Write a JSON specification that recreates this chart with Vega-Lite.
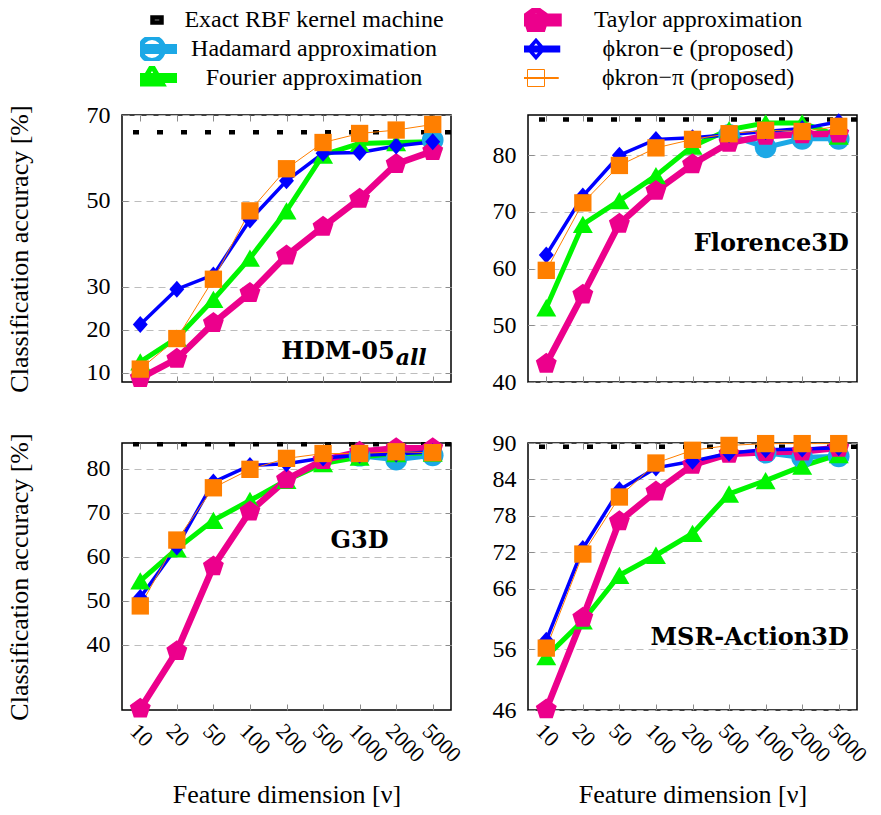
{
  "$schema": "https://vega.github.io/schema/vega-lite/v6.json",
  "padding": {"left": 5, "top": 8, "right": 5, "bottom": 5},
  "datasets": {
    "acc": [
      {"panel": "HDM", "method": "Exact RBF kernel machine", "dim": 10, "acc": 66.0},
      {"panel": "HDM", "method": "Hadamard approximation", "dim": 5000, "acc": 64.2},
      {"panel": "HDM", "method": "Fourier approximation", "dim": 10, "acc": 12.6},
      {"panel": "HDM", "method": "Fourier approximation", "dim": 20, "acc": 18.1},
      {"panel": "HDM", "method": "Fourier approximation", "dim": 50, "acc": 27.1},
      {"panel": "HDM", "method": "Fourier approximation", "dim": 100, "acc": 36.7},
      {"panel": "HDM", "method": "Fourier approximation", "dim": 200, "acc": 47.7},
      {"panel": "HDM", "method": "Fourier approximation", "dim": 500, "acc": 60.7},
      {"panel": "HDM", "method": "Fourier approximation", "dim": 1000, "acc": 63.4},
      {"panel": "HDM", "method": "Fourier approximation", "dim": 2000, "acc": 63.6},
      {"panel": "HDM", "method": "Fourier approximation", "dim": 5000, "acc": 63.8},
      {"panel": "HDM", "method": "Taylor approximation", "dim": 10, "acc": 8.8},
      {"panel": "HDM", "method": "Taylor approximation", "dim": 20, "acc": 13.3},
      {"panel": "HDM", "method": "Taylor approximation", "dim": 50, "acc": 21.6},
      {"panel": "HDM", "method": "Taylor approximation", "dim": 100, "acc": 28.6},
      {"panel": "HDM", "method": "Taylor approximation", "dim": 200, "acc": 37.3},
      {"panel": "HDM", "method": "Taylor approximation", "dim": 500, "acc": 44.0},
      {"panel": "HDM", "method": "Taylor approximation", "dim": 1000, "acc": 50.5},
      {"panel": "HDM", "method": "Taylor approximation", "dim": 2000, "acc": 58.6},
      {"panel": "HDM", "method": "Taylor approximation", "dim": 5000, "acc": 61.6},
      {"panel": "HDM", "method": "ϕkron−e (proposed)", "dim": 10, "acc": 21.3},
      {"panel": "HDM", "method": "ϕkron−e (proposed)", "dim": 20, "acc": 29.5},
      {"panel": "HDM", "method": "ϕkron−e (proposed)", "dim": 50, "acc": 32.8},
      {"panel": "HDM", "method": "ϕkron−e (proposed)", "dim": 100, "acc": 45.6},
      {"panel": "HDM", "method": "ϕkron−e (proposed)", "dim": 200, "acc": 54.7},
      {"panel": "HDM", "method": "ϕkron−e (proposed)", "dim": 500, "acc": 61.1},
      {"panel": "HDM", "method": "ϕkron−e (proposed)", "dim": 1000, "acc": 61.3},
      {"panel": "HDM", "method": "ϕkron−e (proposed)", "dim": 2000, "acc": 62.8},
      {"panel": "HDM", "method": "ϕkron−e (proposed)", "dim": 5000, "acc": 63.8},
      {"panel": "HDM", "method": "ϕkron−π (proposed)", "dim": 10, "acc": 10.9},
      {"panel": "HDM", "method": "ϕkron−π (proposed)", "dim": 20, "acc": 18.0},
      {"panel": "HDM", "method": "ϕkron−π (proposed)", "dim": 50, "acc": 31.8},
      {"panel": "HDM", "method": "ϕkron−π (proposed)", "dim": 100, "acc": 47.7},
      {"panel": "HDM", "method": "ϕkron−π (proposed)", "dim": 200, "acc": 57.5},
      {"panel": "HDM", "method": "ϕkron−π (proposed)", "dim": 500, "acc": 63.6},
      {"panel": "HDM", "method": "ϕkron−π (proposed)", "dim": 1000, "acc": 65.7},
      {"panel": "HDM", "method": "ϕkron−π (proposed)", "dim": 2000, "acc": 66.5},
      {"panel": "HDM", "method": "ϕkron−π (proposed)", "dim": 5000, "acc": 67.8},

      {"panel": "FLO", "method": "Exact RBF kernel machine", "dim": 10, "acc": 86.3},
      {"panel": "FLO", "method": "Hadamard approximation", "dim": 500, "acc": 83.6},
      {"panel": "FLO", "method": "Hadamard approximation", "dim": 1000, "acc": 81.4},
      {"panel": "FLO", "method": "Hadamard approximation", "dim": 2000, "acc": 82.9},
      {"panel": "FLO", "method": "Hadamard approximation", "dim": 5000, "acc": 82.9},
      {"panel": "FLO", "method": "Fourier approximation", "dim": 10, "acc": 53.1},
      {"panel": "FLO", "method": "Fourier approximation", "dim": 20, "acc": 67.8},
      {"panel": "FLO", "method": "Fourier approximation", "dim": 50, "acc": 72.0},
      {"panel": "FLO", "method": "Fourier approximation", "dim": 100, "acc": 76.4},
      {"panel": "FLO", "method": "Fourier approximation", "dim": 200, "acc": 81.6},
      {"panel": "FLO", "method": "Fourier approximation", "dim": 500, "acc": 84.5},
      {"panel": "FLO", "method": "Fourier approximation", "dim": 1000, "acc": 85.7},
      {"panel": "FLO", "method": "Fourier approximation", "dim": 2000, "acc": 85.7},
      {"panel": "FLO", "method": "Fourier approximation", "dim": 5000, "acc": 83.4},
      {"panel": "FLO", "method": "Taylor approximation", "dim": 10, "acc": 43.2},
      {"panel": "FLO", "method": "Taylor approximation", "dim": 20, "acc": 55.4},
      {"panel": "FLO", "method": "Taylor approximation", "dim": 50, "acc": 67.9},
      {"panel": "FLO", "method": "Taylor approximation", "dim": 100, "acc": 73.7},
      {"panel": "FLO", "method": "Taylor approximation", "dim": 200, "acc": 78.4},
      {"panel": "FLO", "method": "Taylor approximation", "dim": 500, "acc": 82.2},
      {"panel": "FLO", "method": "Taylor approximation", "dim": 1000, "acc": 83.4},
      {"panel": "FLO", "method": "Taylor approximation", "dim": 2000, "acc": 83.7},
      {"panel": "FLO", "method": "Taylor approximation", "dim": 5000, "acc": 83.8},
      {"panel": "FLO", "method": "ϕkron−e (proposed)", "dim": 10, "acc": 62.4},
      {"panel": "FLO", "method": "ϕkron−e (proposed)", "dim": 20, "acc": 72.8},
      {"panel": "FLO", "method": "ϕkron−e (proposed)", "dim": 50, "acc": 80.0},
      {"panel": "FLO", "method": "ϕkron−e (proposed)", "dim": 100, "acc": 82.8},
      {"panel": "FLO", "method": "ϕkron−e (proposed)", "dim": 200, "acc": 83.1},
      {"panel": "FLO", "method": "ϕkron−e (proposed)", "dim": 500, "acc": 83.6},
      {"panel": "FLO", "method": "ϕkron−e (proposed)", "dim": 1000, "acc": 84.2},
      {"panel": "FLO", "method": "ϕkron−e (proposed)", "dim": 2000, "acc": 84.7},
      {"panel": "FLO", "method": "ϕkron−e (proposed)", "dim": 5000, "acc": 85.9},
      {"panel": "FLO", "method": "ϕkron−π (proposed)", "dim": 10, "acc": 59.7},
      {"panel": "FLO", "method": "ϕkron−π (proposed)", "dim": 20, "acc": 71.6},
      {"panel": "FLO", "method": "ϕkron−π (proposed)", "dim": 50, "acc": 78.2},
      {"panel": "FLO", "method": "ϕkron−π (proposed)", "dim": 100, "acc": 81.3},
      {"panel": "FLO", "method": "ϕkron−π (proposed)", "dim": 200, "acc": 82.8},
      {"panel": "FLO", "method": "ϕkron−π (proposed)", "dim": 500, "acc": 83.8},
      {"panel": "FLO", "method": "ϕkron−π (proposed)", "dim": 1000, "acc": 84.4},
      {"panel": "FLO", "method": "ϕkron−π (proposed)", "dim": 2000, "acc": 84.2},
      {"panel": "FLO", "method": "ϕkron−π (proposed)", "dim": 5000, "acc": 85.1},

      {"panel": "G3D", "method": "Exact RBF kernel machine", "dim": 10, "acc": 85.6},
      {"panel": "G3D", "method": "Hadamard approximation", "dim": 1000, "acc": 83.0},
      {"panel": "G3D", "method": "Hadamard approximation", "dim": 2000, "acc": 82.1},
      {"panel": "G3D", "method": "Hadamard approximation", "dim": 5000, "acc": 83.1},
      {"panel": "G3D", "method": "Fourier approximation", "dim": 10, "acc": 54.5},
      {"panel": "G3D", "method": "Fourier approximation", "dim": 20, "acc": 61.8},
      {"panel": "G3D", "method": "Fourier approximation", "dim": 50, "acc": 68.3},
      {"panel": "G3D", "method": "Fourier approximation", "dim": 100, "acc": 72.8},
      {"panel": "G3D", "method": "Fourier approximation", "dim": 200, "acc": 77.4},
      {"panel": "G3D", "method": "Fourier approximation", "dim": 500, "acc": 81.2},
      {"panel": "G3D", "method": "Fourier approximation", "dim": 1000, "acc": 82.7},
      {"panel": "G3D", "method": "Fourier approximation", "dim": 2000, "acc": 83.5},
      {"panel": "G3D", "method": "Fourier approximation", "dim": 5000, "acc": 83.6},
      {"panel": "G3D", "method": "Taylor approximation", "dim": 10, "acc": 25.4},
      {"panel": "G3D", "method": "Taylor approximation", "dim": 20, "acc": 38.5},
      {"panel": "G3D", "method": "Taylor approximation", "dim": 50, "acc": 57.8},
      {"panel": "G3D", "method": "Taylor approximation", "dim": 100, "acc": 70.3},
      {"panel": "G3D", "method": "Taylor approximation", "dim": 200, "acc": 77.6},
      {"panel": "G3D", "method": "Taylor approximation", "dim": 500, "acc": 82.0},
      {"panel": "G3D", "method": "Taylor approximation", "dim": 1000, "acc": 83.9},
      {"panel": "G3D", "method": "Taylor approximation", "dim": 2000, "acc": 84.7},
      {"panel": "G3D", "method": "Taylor approximation", "dim": 5000, "acc": 84.7},
      {"panel": "G3D", "method": "ϕkron−e (proposed)", "dim": 10, "acc": 50.7},
      {"panel": "G3D", "method": "ϕkron−e (proposed)", "dim": 20, "acc": 62.2},
      {"panel": "G3D", "method": "ϕkron−e (proposed)", "dim": 50, "acc": 77.0},
      {"panel": "G3D", "method": "ϕkron−e (proposed)", "dim": 100, "acc": 80.8},
      {"panel": "G3D", "method": "ϕkron−e (proposed)", "dim": 200, "acc": 81.2},
      {"panel": "G3D", "method": "ϕkron−e (proposed)", "dim": 500, "acc": 82.5},
      {"panel": "G3D", "method": "ϕkron−e (proposed)", "dim": 1000, "acc": 83.1},
      {"panel": "G3D", "method": "ϕkron−e (proposed)", "dim": 2000, "acc": 83.4},
      {"panel": "G3D", "method": "ϕkron−e (proposed)", "dim": 5000, "acc": 83.9},
      {"panel": "G3D", "method": "ϕkron−π (proposed)", "dim": 10, "acc": 48.8},
      {"panel": "G3D", "method": "ϕkron−π (proposed)", "dim": 20, "acc": 63.8},
      {"panel": "G3D", "method": "ϕkron−π (proposed)", "dim": 50, "acc": 75.7},
      {"panel": "G3D", "method": "ϕkron−π (proposed)", "dim": 100, "acc": 79.9},
      {"panel": "G3D", "method": "ϕkron−π (proposed)", "dim": 200, "acc": 82.4},
      {"panel": "G3D", "method": "ϕkron−π (proposed)", "dim": 500, "acc": 83.5},
      {"panel": "G3D", "method": "ϕkron−π (proposed)", "dim": 1000, "acc": 83.5},
      {"panel": "G3D", "method": "ϕkron−π (proposed)", "dim": 2000, "acc": 83.9},
      {"panel": "G3D", "method": "ϕkron−π (proposed)", "dim": 5000, "acc": 83.7},

      {"panel": "MSR", "method": "Exact RBF kernel machine", "dim": 10, "acc": 89.4},
      {"panel": "MSR", "method": "Hadamard approximation", "dim": 1000, "acc": 88.4},
      {"panel": "MSR", "method": "Hadamard approximation", "dim": 2000, "acc": 87.6},
      {"panel": "MSR", "method": "Hadamard approximation", "dim": 5000, "acc": 87.8},
      {"panel": "MSR", "method": "Fourier approximation", "dim": 10, "acc": 54.8},
      {"panel": "MSR", "method": "Fourier approximation", "dim": 20, "acc": 60.7},
      {"panel": "MSR", "method": "Fourier approximation", "dim": 50, "acc": 68.2},
      {"panel": "MSR", "method": "Fourier approximation", "dim": 100, "acc": 71.5},
      {"panel": "MSR", "method": "Fourier approximation", "dim": 200, "acc": 75.1},
      {"panel": "MSR", "method": "Fourier approximation", "dim": 500, "acc": 81.6},
      {"panel": "MSR", "method": "Fourier approximation", "dim": 1000, "acc": 83.8},
      {"panel": "MSR", "method": "Fourier approximation", "dim": 2000, "acc": 86.2},
      {"panel": "MSR", "method": "Fourier approximation", "dim": 5000, "acc": 88.1},
      {"panel": "MSR", "method": "Taylor approximation", "dim": 10, "acc": 46.1},
      {"panel": "MSR", "method": "Taylor approximation", "dim": 20, "acc": 61.2},
      {"panel": "MSR", "method": "Taylor approximation", "dim": 50, "acc": 77.1},
      {"panel": "MSR", "method": "Taylor approximation", "dim": 100, "acc": 82.0},
      {"panel": "MSR", "method": "Taylor approximation", "dim": 200, "acc": 86.4},
      {"panel": "MSR", "method": "Taylor approximation", "dim": 500, "acc": 88.2},
      {"panel": "MSR", "method": "Taylor approximation", "dim": 1000, "acc": 88.5},
      {"panel": "MSR", "method": "Taylor approximation", "dim": 2000, "acc": 88.6},
      {"panel": "MSR", "method": "Taylor approximation", "dim": 5000, "acc": 89.2},
      {"panel": "MSR", "method": "ϕkron−e (proposed)", "dim": 10, "acc": 57.5},
      {"panel": "MSR", "method": "ϕkron−e (proposed)", "dim": 20, "acc": 72.6},
      {"panel": "MSR", "method": "ϕkron−e (proposed)", "dim": 50, "acc": 82.3},
      {"panel": "MSR", "method": "ϕkron−e (proposed)", "dim": 100, "acc": 85.9},
      {"panel": "MSR", "method": "ϕkron−e (proposed)", "dim": 200, "acc": 87.0},
      {"panel": "MSR", "method": "ϕkron−e (proposed)", "dim": 500, "acc": 88.3},
      {"panel": "MSR", "method": "ϕkron−e (proposed)", "dim": 1000, "acc": 88.9},
      {"panel": "MSR", "method": "ϕkron−e (proposed)", "dim": 2000, "acc": 89.0},
      {"panel": "MSR", "method": "ϕkron−e (proposed)", "dim": 5000, "acc": 89.2},
      {"panel": "MSR", "method": "ϕkron−π (proposed)", "dim": 10, "acc": 56.2},
      {"panel": "MSR", "method": "ϕkron−π (proposed)", "dim": 20, "acc": 71.7},
      {"panel": "MSR", "method": "ϕkron−π (proposed)", "dim": 50, "acc": 81.1},
      {"panel": "MSR", "method": "ϕkron−π (proposed)", "dim": 100, "acc": 86.7},
      {"panel": "MSR", "method": "ϕkron−π (proposed)", "dim": 200, "acc": 88.8},
      {"panel": "MSR", "method": "ϕkron−π (proposed)", "dim": 500, "acc": 89.6},
      {"panel": "MSR", "method": "ϕkron−π (proposed)", "dim": 1000, "acc": 89.9},
      {"panel": "MSR", "method": "ϕkron−π (proposed)", "dim": 2000, "acc": 89.9},
      {"panel": "MSR", "method": "ϕkron−π (proposed)", "dim": 5000, "acc": 89.9}
    ],
    "labels": [
      {"panel": "HDM", "label": "HDM-05", "sub": "all"},
      {"panel": "FLO", "label": "Florence3D", "sub": ""},
      {"panel": "G3D", "label": "G3D", "sub": ""},
      {"panel": "MSR", "label": "MSR-Action3D", "sub": ""}
    ]
  },
  "columns": 2,
  "spacing": {"row": 61, "column": 77},
  "bounds": "flush",
  "concat": [
    {
      "width": 329, "height": 267,
      "data": {"name": "acc"},
      "layer": [
        {
          "transform": [{"filter": "datum.panel === 'HDM'"}],
          "mark": {"type": "point", "filled": true, "opacity": 0},
          "encoding": {
            "x": {"field": "dim", "type": "ordinal", "scale": {"type": "point", "domain": [10, 20, 50, 100, 200, 500, 1000, 2000, 5000], "padding": 0.5}, "axis": null},
            "y": {"field": "acc", "type": "quantitative", "scale": {"domain": [7.9, 70], "nice": false, "zero": false}, "axis": null},
            "color": {"field": "method", "type": "nominal",
              "scale": {"domain": ["Exact RBF kernel machine", "Hadamard approximation", "Fourier approximation", "Taylor approximation", "ϕkron−e (proposed)", "ϕkron−π (proposed)"],
                        "range": ["#000000", "#1CA8E6", "#00F500", "#EC008C", "#0000FF", "#FF7F00"]},
              "legend": {
                "orient": "none", "legendX": 18, "legendY": -107, "columns": 2, "title": null, "padding": 0,
                "labelFont": "Liberation Serif", "labelFontSize": 24, "labelColor": "black",
                "labelAlign": "center", "labelOffset": 150, "labelLimit": 500,
                "symbolSize": 100, "symbolStrokeWidth": 0.5, "symbolOpacity": 1, "clipHeight": 24,
                "columnPadding": 80, "rowPadding": 5
              }},
            "shape": {"field": "method", "type": "nominal",
              "scale": {"domain": ["Exact RBF kernel machine", "Hadamard approximation", "Fourier approximation", "Taylor approximation", "ϕkron−e (proposed)", "ϕkron−π (proposed)"],
                        "range": [
                          "M-4.5,-0.5H-3.1V0.5H-4.5Z M0.1,-0.5H1.9V0.5H0.1Z",
                          "M-4.5,-0.5H4.5V0.5H-4.5Z M2.3,0A2.3,2.3,0,1,1,-2.3,0A2.3,2.3,0,1,1,2.3,0Z",
                          "M-4.5,-0.5H4.5V0.5H-4.5Z M0,-2.4L2.1,1.2L-2.1,1.2Z",
                          "M-4.5,-0.65H4.5V0.65H-4.5Z M0,-2.2L2.09,-0.68L1.29,1.78L-1.29,1.78L-2.09,-0.68Z",
                          "M-4.5,-0.35H4.5V0.35H-4.5Z M0,-1.7L1.5,0L0,1.7L-1.5,0Z",
                          "M-4.5,-0.1H4.5V0.1H-4.5Z M-1.7,-1.7H1.7V1.7H-1.7Z"
                        ]}}
          }
        },
        {
          "transform": [{"filter": "datum.panel === 'HDM' && datum.method === 'Exact RBF kernel machine'"}],
          "mark": {"type": "rule", "strokeDash": [6, 18], "strokeWidth": 4.5, "strokeCap": "butt"},
          "encoding": {
            "y": {"field": "acc", "type": "quantitative", "scale": {"domain": [7.9, 70], "nice": false, "zero": false}, "axis": null},
            "color": {"field": "method", "type": "nominal",
              "scale": {"domain": ["Exact RBF kernel machine", "Hadamard approximation", "Fourier approximation", "Taylor approximation", "ϕkron−e (proposed)", "ϕkron−π (proposed)"],
                        "range": ["#000000", "#1CA8E6", "#00F500", "#EC008C", "#0000FF", "#FF7F00"]}}
          }
        },
        {
          "transform": [{"filter": "datum.panel === 'HDM' && datum.method !== 'Exact RBF kernel machine'"}],
          "mark": {"type": "line"},
          "encoding": {
            "x": {"field": "dim", "type": "ordinal", "scale": {"type": "point", "domain": [10, 20, 50, 100, 200, 500, 1000, 2000, 5000], "padding": 0.5},
                  "axis": {"orient": "bottom", "labels": false, "title": null, "grid": false, "domain": false, "tickSize": -6}},
            "y": {"field": "acc", "type": "quantitative", "scale": {"domain": [7.9, 70], "nice": false, "zero": false},
                  "axis": {"orient": "left", "values": [10, 20, 30, 50, 70], "grid": true, "domain": false, "tickSize": -6, "labelPadding": 18, "title": "Classification accuracy [%]", "titlePadding": 54}},
            "stroke": {"field": "method", "type": "nominal", "legend": null,
              "scale": {"domain": ["Exact RBF kernel machine", "Hadamard approximation", "Fourier approximation", "Taylor approximation", "ϕkron−e (proposed)", "ϕkron−π (proposed)"],
                        "range": ["#000000", "#1CA8E6", "#00F500", "#EC008C", "#0000FF", "#FF7F00"]}},
            "strokeWidth": {"field": "method", "type": "nominal", "legend": null,
              "scale": {"type": "ordinal", "domain": ["Exact RBF kernel machine", "Hadamard approximation", "Fourier approximation", "Taylor approximation", "ϕkron−e (proposed)", "ϕkron−π (proposed)"], "range": [4.5, 5, 5, 6.5, 3.5, 1]}}
          }
        },
        {
          "transform": [{"filter": "datum.panel === 'HDM' && datum.method === 'Hadamard approximation'"}],
          "mark": {"type": "point", "filled": true, "opacity": 1, "shape": "circle", "size": 470, "color": "#1CA8E6"},
          "encoding": {
            "x": {"field": "dim", "type": "ordinal", "axis": {"orient": "top", "labels": false, "title": null, "grid": false, "domain": false, "tickSize": -6}},
            "y": {"field": "acc", "type": "quantitative", "axis": {"orient": "right", "values": [10, 20, 30, 50, 70], "labels": false, "title": null, "grid": false, "domain": false, "tickSize": -6}}
          }
        },
        {
          "transform": [{"filter": "datum.panel === 'HDM' && datum.method === 'Fourier approximation'"}],
          "mark": {"type": "point", "filled": true, "opacity": 1, "shape": "triangle-up", "size": 400, "color": "#00F500"},
          "encoding": {"x": {"field": "dim", "type": "ordinal", "axis": null}, "y": {"field": "acc", "type": "quantitative", "axis": null}}
        },
        {
          "transform": [{"filter": "datum.panel === 'HDM' && datum.method === 'Taylor approximation'"}],
          "mark": {"type": "point", "filled": true, "opacity": 1, "shape": "M0,-1L0.951,-0.309L0.588,0.809L-0.588,0.809L-0.951,-0.309Z", "size": 484, "color": "#EC008C"},
          "encoding": {"x": {"field": "dim", "type": "ordinal", "axis": null}, "y": {"field": "acc", "type": "quantitative", "axis": null}}
        },
        {
          "transform": [{"filter": "datum.panel === 'HDM' && datum.method === 'ϕkron−e (proposed)'"}],
          "mark": {"type": "point", "filled": true, "opacity": 1, "shape": "M0,-1L0.88,0L0,1L-0.88,0Z", "size": 289, "color": "#0000FF"},
          "encoding": {"x": {"field": "dim", "type": "ordinal", "axis": null}, "y": {"field": "acc", "type": "quantitative", "axis": null}}
        },
        {
          "transform": [{"filter": "datum.panel === 'HDM' && datum.method === 'ϕkron−π (proposed)'"}],
          "mark": {"type": "point", "filled": true, "opacity": 1, "shape": "square", "size": 300, "color": "#FF7F00"},
          "encoding": {"x": {"field": "dim", "type": "ordinal", "axis": null}, "y": {"field": "acc", "type": "quantitative", "axis": null}}
        },
        {
          "data": {"name": "labels"},
          "transform": [{"filter": "datum.panel === 'HDM'"}],
          "mark": {"type": "text", "font": "DejaVu Serif", "fontWeight": "bold", "fontSize": 24, "align": "right", "baseline": "middle", "dx": -38},
          "encoding": {"x": {"datum": 5000, "type": "ordinal", "axis": null}, "y": {"datum": 14.9, "type": "quantitative", "axis": null}, "text": {"field": "label"}}
        },
        {
          "data": {"name": "labels"},
          "transform": [{"filter": "datum.panel === 'HDM'"}],
          "mark": {"type": "text", "font": "DejaVu Serif", "fontWeight": "bold", "fontStyle": "italic", "fontSize": 22, "align": "left", "baseline": "middle", "dx": -37, "dy": 6},
          "encoding": {"x": {"datum": 5000, "type": "ordinal", "axis": null}, "y": {"datum": 14.9, "type": "quantitative", "axis": null}, "text": {"field": "sub"}}
        }
      ],
      "resolve": {"axis": {"x": "independent", "y": "independent"}}
    },
    {
      "width": 329, "height": 267,
      "data": {"name": "acc"},
      "layer": [
        {
          "transform": [{"filter": "datum.panel === 'FLO' && datum.method === 'Exact RBF kernel machine'"}],
          "mark": {"type": "rule", "strokeDash": [6, 18], "strokeWidth": 4.5, "strokeCap": "butt"},
          "encoding": {
            "y": {"field": "acc", "type": "quantitative", "scale": {"domain": [40, 87.1], "nice": false, "zero": false}, "axis": null},
            "color": {"field": "method", "type": "nominal",
              "scale": {"domain": ["Exact RBF kernel machine", "Hadamard approximation", "Fourier approximation", "Taylor approximation", "ϕkron−e (proposed)", "ϕkron−π (proposed)"],
                        "range": ["#000000", "#1CA8E6", "#00F500", "#EC008C", "#0000FF", "#FF7F00"]}}
          }
        },
        {
          "transform": [{"filter": "datum.panel === 'FLO' && datum.method !== 'Exact RBF kernel machine'"}],
          "mark": {"type": "line"},
          "encoding": {
            "x": {"field": "dim", "type": "ordinal", "scale": {"type": "point", "domain": [10, 20, 50, 100, 200, 500, 1000, 2000, 5000], "padding": 0.5},
                  "axis": {"orient": "bottom", "labels": false, "title": null, "grid": false, "domain": false, "tickSize": -6}},
            "y": {"field": "acc", "type": "quantitative", "scale": {"domain": [40, 87.1], "nice": false, "zero": false},
                  "axis": {"orient": "left", "values": [40, 50, 60, 70, 80], "grid": true, "domain": false, "tickSize": -6, "labelPadding": 18, "title": null}},
            "stroke": {"field": "method", "type": "nominal", "legend": null,
              "scale": {"domain": ["Exact RBF kernel machine", "Hadamard approximation", "Fourier approximation", "Taylor approximation", "ϕkron−e (proposed)", "ϕkron−π (proposed)"],
                        "range": ["#000000", "#1CA8E6", "#00F500", "#EC008C", "#0000FF", "#FF7F00"]}},
            "strokeWidth": {"field": "method", "type": "nominal", "legend": null,
              "scale": {"type": "ordinal", "domain": ["Exact RBF kernel machine", "Hadamard approximation", "Fourier approximation", "Taylor approximation", "ϕkron−e (proposed)", "ϕkron−π (proposed)"], "range": [4.5, 5, 5, 6.5, 3.5, 1]}}
          }
        },
        {
          "transform": [{"filter": "datum.panel === 'FLO' && datum.method === 'Hadamard approximation'"}],
          "mark": {"type": "point", "filled": true, "opacity": 1, "shape": "circle", "size": 470, "color": "#1CA8E6"},
          "encoding": {
            "x": {"field": "dim", "type": "ordinal", "axis": {"orient": "top", "labels": false, "title": null, "grid": false, "domain": false, "tickSize": -6}},
            "y": {"field": "acc", "type": "quantitative", "axis": {"orient": "right", "values": [40, 50, 60, 70, 80], "labels": false, "title": null, "grid": false, "domain": false, "tickSize": -6}}
          }
        },
        {
          "transform": [{"filter": "datum.panel === 'FLO' && datum.method === 'Fourier approximation'"}],
          "mark": {"type": "point", "filled": true, "opacity": 1, "shape": "triangle-up", "size": 400, "color": "#00F500"},
          "encoding": {"x": {"field": "dim", "type": "ordinal", "axis": null}, "y": {"field": "acc", "type": "quantitative", "axis": null}}
        },
        {
          "transform": [{"filter": "datum.panel === 'FLO' && datum.method === 'Taylor approximation'"}],
          "mark": {"type": "point", "filled": true, "opacity": 1, "shape": "M0,-1L0.951,-0.309L0.588,0.809L-0.588,0.809L-0.951,-0.309Z", "size": 484, "color": "#EC008C"},
          "encoding": {"x": {"field": "dim", "type": "ordinal", "axis": null}, "y": {"field": "acc", "type": "quantitative", "axis": null}}
        },
        {
          "transform": [{"filter": "datum.panel === 'FLO' && datum.method === 'ϕkron−e (proposed)'"}],
          "mark": {"type": "point", "filled": true, "opacity": 1, "shape": "M0,-1L0.88,0L0,1L-0.88,0Z", "size": 289, "color": "#0000FF"},
          "encoding": {"x": {"field": "dim", "type": "ordinal", "axis": null}, "y": {"field": "acc", "type": "quantitative", "axis": null}}
        },
        {
          "transform": [{"filter": "datum.panel === 'FLO' && datum.method === 'ϕkron−π (proposed)'"}],
          "mark": {"type": "point", "filled": true, "opacity": 1, "shape": "square", "size": 300, "color": "#FF7F00"},
          "encoding": {"x": {"field": "dim", "type": "ordinal", "axis": null}, "y": {"field": "acc", "type": "quantitative", "axis": null}}
        },
        {
          "data": {"name": "labels"},
          "transform": [{"filter": "datum.panel === 'FLO'"}],
          "mark": {"type": "text", "font": "DejaVu Serif", "fontWeight": "bold", "fontSize": 24, "align": "right", "baseline": "middle", "dx": 10},
          "encoding": {"x": {"datum": 5000, "type": "ordinal", "axis": null}, "y": {"datum": 64.4, "type": "quantitative", "axis": null}, "text": {"field": "label"}}
        }
      ],
      "resolve": {"axis": {"x": "independent", "y": "independent"}}
    },
    {
      "width": 329, "height": 267,
      "data": {"name": "acc"},
      "layer": [
        {
          "transform": [{"filter": "datum.panel === 'G3D' && datum.method === 'Exact RBF kernel machine'"}],
          "mark": {"type": "rule", "strokeDash": [6, 18], "strokeWidth": 4.5, "strokeCap": "butt"},
          "encoding": {
            "y": {"field": "acc", "type": "quantitative", "scale": {"domain": [25.1, 85.9], "nice": false, "zero": false}, "axis": null},
            "color": {"field": "method", "type": "nominal",
              "scale": {"domain": ["Exact RBF kernel machine", "Hadamard approximation", "Fourier approximation", "Taylor approximation", "ϕkron−e (proposed)", "ϕkron−π (proposed)"],
                        "range": ["#000000", "#1CA8E6", "#00F500", "#EC008C", "#0000FF", "#FF7F00"]}}
          }
        },
        {
          "transform": [{"filter": "datum.panel === 'G3D' && datum.method !== 'Exact RBF kernel machine'"}],
          "mark": {"type": "line"},
          "encoding": {
            "x": {"field": "dim", "type": "ordinal", "scale": {"type": "point", "domain": [10, 20, 50, 100, 200, 500, 1000, 2000, 5000], "padding": 0.5},
                  "axis": {"orient": "bottom", "labels": true, "labelAngle": 45, "labelFontSize": 22, "labelPadding": 16, "title": "Feature dimension [ν]", "titlePadding": 16, "grid": false, "domain": false, "tickSize": -6}},
            "y": {"field": "acc", "type": "quantitative", "scale": {"domain": [25.1, 85.9], "nice": false, "zero": false},
                  "axis": {"orient": "left", "values": [40, 50, 60, 70, 80], "grid": true, "domain": false, "tickSize": -6, "labelPadding": 18, "title": "Classification accuracy [%]", "titlePadding": 54}},
            "stroke": {"field": "method", "type": "nominal", "legend": null,
              "scale": {"domain": ["Exact RBF kernel machine", "Hadamard approximation", "Fourier approximation", "Taylor approximation", "ϕkron−e (proposed)", "ϕkron−π (proposed)"],
                        "range": ["#000000", "#1CA8E6", "#00F500", "#EC008C", "#0000FF", "#FF7F00"]}},
            "strokeWidth": {"field": "method", "type": "nominal", "legend": null,
              "scale": {"type": "ordinal", "domain": ["Exact RBF kernel machine", "Hadamard approximation", "Fourier approximation", "Taylor approximation", "ϕkron−e (proposed)", "ϕkron−π (proposed)"], "range": [4.5, 5, 5, 6.5, 3.5, 1]}}
          }
        },
        {
          "transform": [{"filter": "datum.panel === 'G3D' && datum.method === 'Hadamard approximation'"}],
          "mark": {"type": "point", "filled": true, "opacity": 1, "shape": "circle", "size": 470, "color": "#1CA8E6"},
          "encoding": {
            "x": {"field": "dim", "type": "ordinal", "axis": {"orient": "top", "labels": false, "title": null, "grid": false, "domain": false, "tickSize": -6}},
            "y": {"field": "acc", "type": "quantitative", "axis": {"orient": "right", "values": [40, 50, 60, 70, 80], "labels": false, "title": null, "grid": false, "domain": false, "tickSize": -6}}
          }
        },
        {
          "transform": [{"filter": "datum.panel === 'G3D' && datum.method === 'Fourier approximation'"}],
          "mark": {"type": "point", "filled": true, "opacity": 1, "shape": "triangle-up", "size": 400, "color": "#00F500"},
          "encoding": {"x": {"field": "dim", "type": "ordinal", "axis": null}, "y": {"field": "acc", "type": "quantitative", "axis": null}}
        },
        {
          "transform": [{"filter": "datum.panel === 'G3D' && datum.method === 'Taylor approximation'"}],
          "mark": {"type": "point", "filled": true, "opacity": 1, "shape": "M0,-1L0.951,-0.309L0.588,0.809L-0.588,0.809L-0.951,-0.309Z", "size": 484, "color": "#EC008C"},
          "encoding": {"x": {"field": "dim", "type": "ordinal", "axis": null}, "y": {"field": "acc", "type": "quantitative", "axis": null}}
        },
        {
          "transform": [{"filter": "datum.panel === 'G3D' && datum.method === 'ϕkron−e (proposed)'"}],
          "mark": {"type": "point", "filled": true, "opacity": 1, "shape": "M0,-1L0.88,0L0,1L-0.88,0Z", "size": 289, "color": "#0000FF"},
          "encoding": {"x": {"field": "dim", "type": "ordinal", "axis": null}, "y": {"field": "acc", "type": "quantitative", "axis": null}}
        },
        {
          "transform": [{"filter": "datum.panel === 'G3D' && datum.method === 'ϕkron−π (proposed)'"}],
          "mark": {"type": "point", "filled": true, "opacity": 1, "shape": "square", "size": 300, "color": "#FF7F00"},
          "encoding": {"x": {"field": "dim", "type": "ordinal", "axis": null}, "y": {"field": "acc", "type": "quantitative", "axis": null}}
        },
        {
          "data": {"name": "labels"},
          "transform": [{"filter": "datum.panel === 'G3D'"}],
          "mark": {"type": "text", "font": "DejaVu Serif", "fontWeight": "bold", "fontSize": 24, "align": "center", "baseline": "middle"},
          "encoding": {"x": {"datum": 1000, "type": "ordinal", "axis": null}, "y": {"datum": 63.5, "type": "quantitative", "axis": null}, "text": {"field": "label"}}
        }
      ],
      "resolve": {"axis": {"x": "independent", "y": "independent"}}
    },
    {
      "width": 329, "height": 267,
      "data": {"name": "acc"},
      "layer": [
        {
          "transform": [{"filter": "datum.panel === 'MSR' && datum.method === 'Exact RBF kernel machine'"}],
          "mark": {"type": "rule", "strokeDash": [6, 18], "strokeWidth": 4.5, "strokeCap": "butt"},
          "encoding": {
            "y": {"field": "acc", "type": "quantitative", "scale": {"domain": [46, 90], "nice": false, "zero": false}, "axis": null},
            "color": {"field": "method", "type": "nominal",
              "scale": {"domain": ["Exact RBF kernel machine", "Hadamard approximation", "Fourier approximation", "Taylor approximation", "ϕkron−e (proposed)", "ϕkron−π (proposed)"],
                        "range": ["#000000", "#1CA8E6", "#00F500", "#EC008C", "#0000FF", "#FF7F00"]}}
          }
        },
        {
          "transform": [{"filter": "datum.panel === 'MSR' && datum.method !== 'Exact RBF kernel machine'"}],
          "mark": {"type": "line"},
          "encoding": {
            "x": {"field": "dim", "type": "ordinal", "scale": {"type": "point", "domain": [10, 20, 50, 100, 200, 500, 1000, 2000, 5000], "padding": 0.5},
                  "axis": {"orient": "bottom", "labels": true, "labelAngle": 45, "labelFontSize": 22, "labelPadding": 16, "title": "Feature dimension [ν]", "titlePadding": 16, "grid": false, "domain": false, "tickSize": -6}},
            "y": {"field": "acc", "type": "quantitative", "scale": {"domain": [46, 90], "nice": false, "zero": false},
                  "axis": {"orient": "left", "values": [46, 56, 66, 72, 78, 84, 90], "grid": true, "domain": false, "tickSize": -6, "labelPadding": 18, "title": null}},
            "stroke": {"field": "method", "type": "nominal", "legend": null,
              "scale": {"domain": ["Exact RBF kernel machine", "Hadamard approximation", "Fourier approximation", "Taylor approximation", "ϕkron−e (proposed)", "ϕkron−π (proposed)"],
                        "range": ["#000000", "#1CA8E6", "#00F500", "#EC008C", "#0000FF", "#FF7F00"]}},
            "strokeWidth": {"field": "method", "type": "nominal", "legend": null,
              "scale": {"type": "ordinal", "domain": ["Exact RBF kernel machine", "Hadamard approximation", "Fourier approximation", "Taylor approximation", "ϕkron−e (proposed)", "ϕkron−π (proposed)"], "range": [4.5, 5, 5, 6.5, 3.5, 1]}}
          }
        },
        {
          "transform": [{"filter": "datum.panel === 'MSR' && datum.method === 'Hadamard approximation'"}],
          "mark": {"type": "point", "filled": true, "opacity": 1, "shape": "circle", "size": 470, "color": "#1CA8E6"},
          "encoding": {
            "x": {"field": "dim", "type": "ordinal", "axis": {"orient": "top", "labels": false, "title": null, "grid": false, "domain": false, "tickSize": -6}},
            "y": {"field": "acc", "type": "quantitative", "axis": {"orient": "right", "values": [46, 56, 66, 72, 78, 84, 90], "labels": false, "title": null, "grid": false, "domain": false, "tickSize": -6}}
          }
        },
        {
          "transform": [{"filter": "datum.panel === 'MSR' && datum.method === 'Fourier approximation'"}],
          "mark": {"type": "point", "filled": true, "opacity": 1, "shape": "triangle-up", "size": 400, "color": "#00F500"},
          "encoding": {"x": {"field": "dim", "type": "ordinal", "axis": null}, "y": {"field": "acc", "type": "quantitative", "axis": null}}
        },
        {
          "transform": [{"filter": "datum.panel === 'MSR' && datum.method === 'Taylor approximation'"}],
          "mark": {"type": "point", "filled": true, "opacity": 1, "shape": "M0,-1L0.951,-0.309L0.588,0.809L-0.588,0.809L-0.951,-0.309Z", "size": 484, "color": "#EC008C"},
          "encoding": {"x": {"field": "dim", "type": "ordinal", "axis": null}, "y": {"field": "acc", "type": "quantitative", "axis": null}}
        },
        {
          "transform": [{"filter": "datum.panel === 'MSR' && datum.method === 'ϕkron−e (proposed)'"}],
          "mark": {"type": "point", "filled": true, "opacity": 1, "shape": "M0,-1L0.88,0L0,1L-0.88,0Z", "size": 289, "color": "#0000FF"},
          "encoding": {"x": {"field": "dim", "type": "ordinal", "axis": null}, "y": {"field": "acc", "type": "quantitative", "axis": null}}
        },
        {
          "transform": [{"filter": "datum.panel === 'MSR' && datum.method === 'ϕkron−π (proposed)'"}],
          "mark": {"type": "point", "filled": true, "opacity": 1, "shape": "square", "size": 300, "color": "#FF7F00"},
          "encoding": {"x": {"field": "dim", "type": "ordinal", "axis": null}, "y": {"field": "acc", "type": "quantitative", "axis": null}}
        },
        {
          "data": {"name": "labels"},
          "transform": [{"filter": "datum.panel === 'MSR'"}],
          "mark": {"type": "text", "font": "DejaVu Serif", "fontWeight": "bold", "fontSize": 24, "align": "right", "baseline": "middle", "dx": 10},
          "encoding": {"x": {"datum": 5000, "type": "ordinal", "axis": null}, "y": {"datum": 57.8, "type": "quantitative", "axis": null}, "text": {"field": "label"}}
        }
      ],
      "resolve": {"axis": {"x": "independent", "y": "independent"}}
    }
  ],
  "config": {
    "font": "Liberation Serif",
    "view": {"stroke": "#000000", "strokeWidth": 1.5},
    "axis": {
      "labelFont": "Liberation Serif", "labelFontSize": 24, "labelColor": "#000000",
      "titleFont": "Liberation Serif", "titleFontSize": 26, "titleFontWeight": "normal", "titleColor": "#000000",
      "tickColor": "#8c8c8c", "tickWidth": 1,
      "gridColor": "#bdbdbd", "gridDash": [7, 5], "gridWidth": 1
    }
  }
}
